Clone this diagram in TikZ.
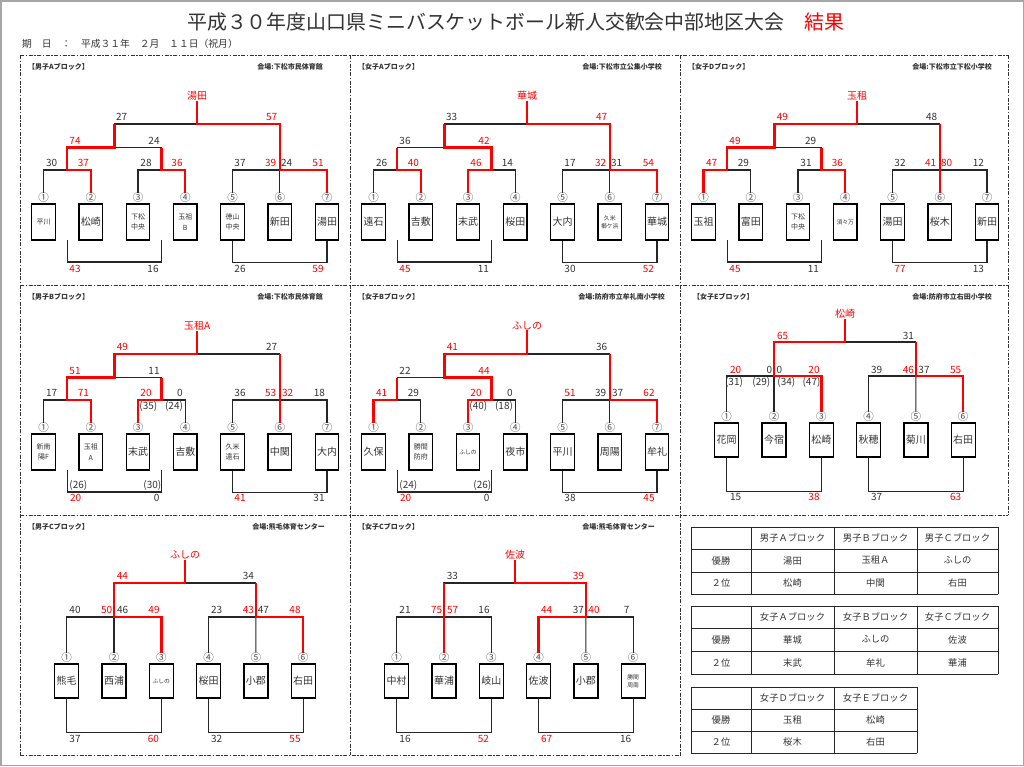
\documentclass[tikz,border=0pt]{standalone}
\usepackage{fontspec}
\setmainfont{Noto Sans CJK JP}
\definecolor{ink}{HTML}{333333}
\definecolor{hit}{HTML}{FF0000}

\begin{document}
\begin{tikzpicture}[x=1pt, y=-1pt,
    box node/.style={draw=black, line width=1.2pt, fill=white, minimum width=23.5pt, minimum height=36pt, inner sep=0pt, align=center, text=ink},
    bigname/.style={font=\fontsize{10}{12}\selectfont},
    smallname/.style={font=\fontsize{7}{10.5}\selectfont},
    tinyname/.style={font=\fontsize{5.8}{8}\selectfont},
    num node/.style={font=\fontsize{10.5}{11}\selectfont, text=black!70, inner sep=0pt},
    pt node/.style={font=\fontsize{10}{12}\selectfont, text=ink, inner sep=0pt},
    red pt/.style={pt node, text=hit},
    win node/.style={font=\fontsize{10}{12}\selectfont, text=hit, inner sep=0.5pt},
    head node/.style={font=\bfseries\fontsize{7}{8}\selectfont, text=ink, inner sep=0pt},
    cell node/.style={font=\fontsize{9.3}{11}\selectfont, text=ink, inner sep=0pt},
    black line/.style={draw=black!85, line width=1.1pt},
    red line/.style={draw=hit, line width=2.4pt},
    sep line/.style={draw=black!80, line width=0.9pt, dash pattern=on 4pt off 1.5pt on 1.5pt off 1.5pt},
    grid line/.style={draw=black!85, line width=1pt},
    ]
  \useasboundingbox (0,0) rectangle (1024,766);

  % 7チームのブロック
  \def\sevenbase#1#2#3{%
    \foreach \i/\c/\s/\n [evaluate=\i as \x using -23.75+47.25*\i] in {#3} {
      \node[box node, \s] (#1-t\i) at (\x,167) {\n};
      \node[num node] (#1-n\i) at (\x,143) {\c};
    }
    \node[win node] (#1-w) at (177.1,40.5) {#2};
    \coordinate (#1-a) at (47.1,115);
    \coordinate (#1-b) at (141.6,115);
    \coordinate (#1-c) at (94.4,92.5);
    \coordinate (#1-e) at (259.75,115);
    \coordinate (#1-f) at (177.1,69);
    \coordinate (#1-g) at (47.1,185);
    \coordinate (#1-h) at (141.6,185);
    \draw[black line] (#1-n1) |- (#1-a) -| (#1-n2);
    \draw[black line] (#1-n3) |- (#1-b) -| (#1-n4);
    \draw[black line] (#1-a) |- (#1-c) -| (#1-b);
    \draw[black line] (#1-n5) |- (#1-e) -| (#1-n7);
    \draw[black line] (#1-n6) -- (#1-e);
    \draw[black line] (#1-c) |- (#1-f) -| (#1-e);
    \draw[black line] (#1-f) -- (#1-w);
    \draw[black line] (#1-g) -- ++(0,22) -| (#1-h);
    \draw[black line] (#1-t5.south) -- ++(0,22) -| (#1-t7.south);
  }
  % 6チームのブロック
  \def\sixbase#1#2#3{%
    \foreach \i/\c/\s/\n [evaluate=\i as \x using -0.6+47.3*\i] in {#3} {
      \node[box node, minimum width=24pt, minimum height=34pt, \s] (#1-t\i) at (\x,166) {\n};
      \node[num node] (#1-n\i) at (\x,142.7) {\c};
    }
    \node[win node] (#1-w) at (165,40) {#2};
    \coordinate (#1-a) at (94,102);
    \coordinate (#1-e) at (235.9,102);
    \coordinate (#1-f) at (165,68);
    \draw[black line] (#1-n1) |- (#1-a) -| (#1-n3);
    \draw[black line] (#1-n2) -- (#1-a);
    \draw[black line] (#1-n4) |- (#1-e) -| (#1-n6);
    \draw[black line] (#1-n5) -- (#1-e);
    \draw[black line] (#1-a) |- (#1-f) -| (#1-e);
    \draw[black line] (#1-f) -- (#1-w);
    \draw[black line] (#1-t1.south) -- ++(0,34) -| (#1-t3.south);
    \draw[black line] (#1-t4.south) -- ++(0,34) -| (#1-t6.south);
  }

  \draw[gray!70, line width=1.5pt] (0.75,0.75) rectangle (1023.25,765.25);
  \node[anchor=west, font=\fontsize{19.9}{24}\selectfont, text=ink, inner sep=0pt] (title) at (187,22)
    {平成３０年度山口県ミニバスケットボール新人交歓会中部地区大会　\textcolor{hit}{結果}};
  \node[anchor=west, font=\fontsize{9.8}{11}\selectfont, text=ink, inner sep=0pt] (date) at (22,44)
    {期　日　：　平成３１年　２月　１１日（祝月）};

  \draw[sep line] (20,55) -- (1008,55);
  \draw[sep line] (20,285) -- (1008,285);
  \draw[sep line] (20,515) -- (1008,515);
  \draw[sep line] (20,755) -- (680.5,755);
  \draw[sep line] (20,55) -- (20,755);
  \draw[sep line] (350,55) -- (350,755);
  \draw[sep line] (680.5,55) -- (680.5,755);
  \draw[sep line] (1008,55) -- (1008,515);

  \foreach \x/\y/\bn/\vn/\vx [count=\k] in {28/67/男子A/下松市民体育館/323, 358/67/女子A/下松市立公集小学校/662,
      688/67/女子D/下松市立下松小学校/992, 28/297/男子B/下松市民体育館/323, 358/297/女子B/防府市立牟礼南小学校/665,
      693/297/女子E/防府市立右田小学校/992, 28/527/男子C/熊毛体育センター/325, 358/527/女子C/熊毛体育センター/655} {
    \node[head node, anchor=west] (bt\k) at (\x,\y) {【\bn{}ブロック】};
    \node[head node, anchor=east] (bv\k) at (\vx,\y) {会場:\vn};
  }

  % 男子Aブロック
  \begin{scope}[shift={(20,55)}]
    \sevenbase{ma}{湯田}{1/①/smallname/平川, 2/②/bigname/松崎, 3/③/smallname/下松\\中央,
      4/④/smallname/玉祖\\B, 5/⑤/smallname/徳山\\中央, 6/⑥/bigname/新田, 7/⑦/bigname/湯田}
    \foreach \x/\y/\s [count=\k] in {31.7/108/30, 126/108/28, 220/108/37, 266.7/108/24, 134/85.5/24,
        101.7/62/27, 133/214/16, 220/214/26}
      \node[pt node] (ma-p\k) at (\x,\y) {\s};
    \foreach \x/\y/\s [count=\k] in {63.3/108/37, 157/108/36, 250.7/108/39, 298/108/51, 55/85.5/74,
        251.7/62/57, 55/214/43, 298/214/59}
      \node[red pt] (ma-q\k) at (\x,\y) {\s};
    \draw[red line] (ma-n2) |- (ma-a) |- (ma-c) -- (ma-c |- ma-f);
    \draw[red line] (ma-n4) |- (ma-b) -- (ma-b |- ma-c);
    \draw[red line] (ma-n7) |- (ma-e) -- (ma-e |- ma-f) -| (ma-w);
  \end{scope}

  % 女子Aブロック
  \begin{scope}[shift={(350,55)}]
    \sevenbase{fa}{華城}{1/①/bigname/遠石, 2/②/bigname/吉敷, 3/③/bigname/末武, 4/④/bigname/桜田,
      5/⑤/bigname/大内, 6/⑥/tinyname/久米\\櫛ケ浜, 7/⑦/bigname/華城}
    \foreach \x/\y/\s [count=\k] in {31.7/108/26, 157.3/108/14, 220/108/17, 266.7/108/31, 55/85.5/36,
        101.7/62/33, 133.3/214/11, 220/214/30}
      \node[pt node] (fa-p\k) at (\x,\y) {\s};
    \foreach \x/\y/\s [count=\k] in {63.3/108/40, 126/108/46, 250.7/108/32, 298.3/108/54, 134/85.5/42,
        251.7/62/47, 55/214/45, 298.3/214/52}
      \node[red pt] (fa-q\k) at (\x,\y) {\s};
    \draw[red line] (fa-n2) |- (fa-a) -- (fa-a |- fa-c);
    \draw[red line] (fa-n3) |- (fa-b) |- (fa-c) -- (fa-c |- fa-f);
    \draw[red line] (fa-n7) |- (fa-e) -- (fa-e |- fa-f) -| (fa-w);
  \end{scope}

  % 女子Dブロック
  \begin{scope}[shift={(680,55)}]
    \sevenbase{fd}{玉租}{1/①/bigname/玉祖, 2/②/bigname/富田, 3/③/smallname/下松\\中央, 4/④/tinyname/須々万,
      5/⑤/bigname/湯田, 6/⑥/bigname/桜木, 7/⑦/bigname/新田}
    \foreach \x/\y/\s [count=\k] in {63.3/108/29, 126/108/31, 220/108/32, 298.3/108/12, 130.7/85.5/29,
        251.7/62/48, 133.3/214/11, 298.3/214/13}
      \node[pt node] (fd-p\k) at (\x,\y) {\s};
    \foreach \x/\y/\s [count=\k] in {31.7/108/47, 157.3/108/36, 250.7/108/41, 266.7/108/80, 55/85.5/49,
        102.3/62/49, 55/214/45, 220/214/77}
      \node[red pt] (fd-q\k) at (\x,\y) {\s};
    \draw[red line] (fd-n1) |- (fd-a) |- (fd-c) -- (fd-c |- fd-f) -| (fd-w);
    \draw[red line] (fd-n4) |- (fd-b) -- (fd-b |- fd-c);
    \draw[red line] (fd-n6) -- (fd-n6 |- fd-f);
  \end{scope}

  % 男子Bブロック
  \begin{scope}[shift={(20,285)}]
    \sevenbase{mb}{玉租A}{1/①/smallname/新南\\陽F, 2/②/smallname/玉祖\\A, 3/③/bigname/末武, 4/④/bigname/吉敷,
      5/⑤/smallname/久米\\遠石, 6/⑥/bigname/中関, 7/⑦/bigname/大内}
    \foreach \x/\y/\s [count=\k] in {31.7/108/17, 160/108/0, 220/108/36, 299.3/108/18, 128.3/121/(35),
        154/121/(24), 134/85.5/11, 251.7/62/27, 58.3/200/(26), 132.3/200/(30), 136.7/213/0, 299/213/31}
      \node[pt node] (mb-p\k) at (\x,\y) {\s};
    \foreach \x/\y/\s [count=\k] in {63.3/108/71, 126/108/20, 250.7/108/53, 267.7/108/32, 55/85.5/51,
        102.3/62/49, 55.7/213/20, 220/213/41}
      \node[red pt] (mb-q\k) at (\x,\y) {\s};
    \draw[red line] (mb-n2) |- (mb-a) |- (mb-c) -- (mb-c |- mb-f) -| (mb-w);
    \draw[red line] (mb-n3) |- (mb-b) -- (mb-b |- mb-c);
    \draw[red line] (mb-n6) -- (mb-n6 |- mb-f);
  \end{scope}

  % 女子Bブロック
  \begin{scope}[shift={(350,285)}]
    \sevenbase{fb}{ふしの}{1/①/bigname/久保, 2/②/smallname/勝間\\防府, 3/③/tinyname/ふしの, 4/④/bigname/夜市,
      5/⑤/bigname/平川, 6/⑥/bigname/周陽, 7/⑦/bigname/牟礼}
    \foreach \x/\y/\s [count=\k] in {63.3/108/29, 160/108/0, 250.7/108/39, 267.7/108/37, 128.3/121/(40),
        154/121/(18), 55/85.5/22, 251.7/62/36, 58.3/200/(24), 132.3/200/(26), 136.7/213/0, 220/213/38}
      \node[pt node] (fb-p\k) at (\x,\y) {\s};
    \foreach \x/\y/\s [count=\k] in {31.7/108/41, 126/108/20, 220/108/51, 299/108/62, 134/85.5/44,
        102.3/62/41, 55.7/213/20, 299/213/45}
      \node[red pt] (fb-q\k) at (\x,\y) {\s};
    \draw[red line] (fb-n1) |- (fb-a) -- (fb-a |- fb-c);
    \draw[red line] (fb-n3) |- (fb-b) |- (fb-c) -- (fb-c |- fb-f) -| (fb-w);
    \draw[red line] (fb-n7) |- (fb-e) -- (fb-e |- fb-f);
  \end{scope}

  % 女子Eブロック
  \begin{scope}[shift={(680,274)}]
    \sixbase{fe}{松崎}{1/①/bigname/花岡, 2/②/bigname/今宿, 3/③/bigname/松崎, 4/④/bigname/秋穂,
      5/⑤/bigname/菊川, 6/⑥/bigname/右田}
    \foreach \x/\y/\s [count=\k] in {89.3/96/0, 99.3/96/0, 196.7/96/39, 244/96/37, 54/108.7/(31),
        81.3/108.7/(29), 106.3/108.7/(34), 131.5/108.7/(47), 228.3/61.7/31, 55.7/223.3/15, 196.7/223.3/37}
      \node[pt node] (fe-p\k) at (\x,\y) {\s};
    \foreach \x/\y/\s [count=\k] in {55.7/96/20, 134/96/20, 228.3/96/46, 275.7/96/55, 102.7/61.7/65,
        134/223.3/38, 275.7/223.3/63}
      \node[red pt] (fe-q\k) at (\x,\y) {\s};
    \draw[red line] (fe-n3) |- (fe-a) -- (fe-a |- fe-f) -| (fe-w);
    \draw[red line] (fe-n6) |- (fe-e) -- (fe-e |- fe-f);
  \end{scope}

  % 男子Cブロック
  \begin{scope}[shift={(20,515)}]
    \sixbase{mc}{ふしの}{1/①/bigname/熊毛, 2/②/bigname/西浦, 3/③/tinyname/ふしの, 4/④/bigname/桜田,
      5/⑤/bigname/小郡, 6/⑥/bigname/右田}
    \foreach \x/\y/\s [count=\k] in {55/95/40, 102.7/95/46, 196.7/95/23, 243.3/95/47, 228.3/61/34,
        55/224/37, 196.7/224/32}
      \node[pt node] (mc-p\k) at (\x,\y) {\s};
    \foreach \x/\y/\s [count=\k] in {86.7/95/50, 134/95/49, 228.3/95/43, 275/95/48, 102.3/61/44,
        133.3/224/60, 275/224/55}
      \node[red pt] (mc-q\k) at (\x,\y) {\s};
    \draw[red line] (mc-n3) |- (mc-a) -- (mc-a |- mc-f) -| (mc-w);
    \draw[red line] (mc-n6) |- (mc-e) -- (mc-e |- mc-f);
  \end{scope}

  % 女子Cブロック
  \begin{scope}[shift={(350,515)}]
    \sixbase{fc}{佐波}{1/①/bigname/中村, 2/②/bigname/華浦, 3/③/bigname/岐山, 4/④/bigname/佐波,
      5/⑤/bigname/小郡, 6/⑥/tinyname/勝間\\周南}
    \foreach \x/\y/\s [count=\k] in {55/95/21, 134/95/16, 228.3/95/37, 276.7/95/7, 102.3/61/33,
        55/224/16, 275.7/224/16}
      \node[pt node] (fc-p\k) at (\x,\y) {\s};
    \foreach \x/\y/\s [count=\k] in {86.7/95/75, 102.7/95/57, 196.7/95/44, 244/95/40, 228.3/61/39,
        133.3/224/52, 196.7/224/67}
      \node[red pt] (fc-q\k) at (\x,\y) {\s};
    \draw[red line] (fc-n2) -- (fc-n2 |- fc-f);
    \draw[red line] (fc-n4) |- (fc-e) -- (fc-e |- fc-f) -| (fc-w);
  \end{scope}

  % 結果表
  \foreach \y in {527,549,572,594,606,628,651,674}
    \draw[grid line] (691,\y) -- (998,\y);
  \foreach \x in {691,751,834,917,998} {
    \draw[grid line] (\x,527) -- (\x,594);
    \draw[grid line] (\x,606) -- (\x,674);
  }
  \foreach \y in {687,709,731,753}
    \draw[grid line] (691,\y) -- (917,\y);
  \foreach \x in {691,751,834,917}
    \draw[grid line] (\x,687) -- (\x,753);
  \foreach \x/\y/\s [count=\k] in {792.5/538/男子Ａブロック, 875.5/538/男子Ｂブロック, 957.5/538/男子Ｃブロック,
      721/560.5/優勝, 792.5/560.5/湯田, 875.5/560.5/玉租Ａ, 957.5/560.5/ふしの,
      721/583/２位, 792.5/583/松崎, 875.5/583/中関, 957.5/583/右田,
      792.5/617/女子Ａブロック, 875.5/617/女子Ｂブロック, 957.5/617/女子Ｃブロック,
      721/639.5/優勝, 792.5/639.5/華城, 875.5/639.5/ふしの, 957.5/639.5/佐波,
      721/662.5/２位, 792.5/662.5/末武, 875.5/662.5/牟礼, 957.5/662.5/華浦,
      792.5/698/女子Ｄブロック, 875.5/698/女子Ｅブロック,
      721/720/優勝, 792.5/720/玉租, 875.5/720/松崎,
      721/742/２位, 792.5/742/桜木, 875.5/742/右田}
    \node[cell node] (cell\k) at (\x,\y) {\s};
\end{tikzpicture}
\end{document}
